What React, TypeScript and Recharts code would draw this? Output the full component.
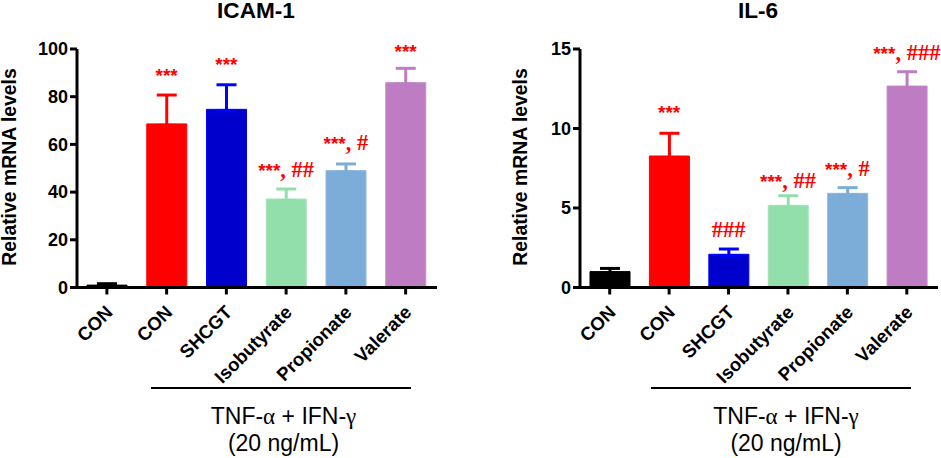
import React from "react";
import { ComposedChart, Bar, Line, XAxis, YAxis, ErrorBar } from "recharts";

const categories = ["CON", "CON ", "SHCGT", "Isobutyrate", "Propionate", "Valerate"];
const fills = ["#000000", "#FF0000", "#0000CC", "#93DFAC", "#7CADD8", "#BE7DC2"];
const strokes = ["#000000", "#FF0000", "#0000FF", "#A3E4B8", "#8DB9E0", "#C78CCB"];
const whiskers = ["#000000", "#FF0000", "#0000FF", "#93DFAC", "#7CADD8", "#BE7DC2"];

const icamValues = [1, 68.6, 74.7, 37.1, 49, 85.9];
const icamUpper = [0.6, 12.1, 10.3, 4.2, 2.8, 6];
const icamMarkY = [null, 86.2, 90.6, 46.3, 57.7, 96.2];
const icamStars = ["", "***", "***", "***", "***", "***"];
const icamHashes = ["", "", "", ", ##", ", #", ""];
const icamTicks = [0, 20, 40, 60, 80, 100];

const il6Values = [1, 8.27, 2.09, 5.17, 5.92, 12.67];
const il6Upper = [0.2, 1.43, 0.33, 0.6, 0.36, 0.9];
const il6MarkY = [null, 10.6, 3.17, 6.27, 7.0, 14.3];
const il6Stars = ["", "***", "", "***", "***", "***"];
const il6Hashes = ["", "", "###", ", ##", ", #", ", ###"];
const il6Ticks = [0, 5, 10, 15];

const SANS = "'Liberation Sans', Arial, sans-serif";
const SERIF = "'Liberation Serif', 'Times New Roman', serif";

function XTick({ x, y, payload }: any) {
  return (
    <g>
      <text
        transform={`rotate(-45 ${x + 7} ${y + 17})`}
        x={x + 7}
        y={y + 17}
        textAnchor="end"
        fontFamily={SANS}
        fontWeight={700}
        fontSize={18.6}
        fill="#000"
      >
        {String(payload.value).trim()}
      </text>
    </g>
  );
}

function Panel({ left, width, marginRight, axisWidth, labelX, max, ticks, values, upper, markY, stars, hashes, title, titleX, lowCap }: any) {
  const data = categories.map((name, i) => ({
    name,
    mark: markY[i],
    ...Object.fromEntries(values.map((v: number, k: number) => [`s${k}`, k === i ? v : null])),
  }));
  return (
    <div style={{ position: "absolute", left, top: 0, width, height: 458 }}>
      <ComposedChart
        width={width}
        height={458}
        data={data}
        margin={{ top: 49, bottom: 0, left: 0, right: marginRight }}
      >
        <XAxis
          dataKey="name"
          interval={0}
          height={170.5}
          tick={<XTick />}
          tickSize={7}
          padding={{ left: 0, right: 1.5 }}
          axisLine={{ stroke: "#000", strokeWidth: 3 }}
          tickLine={{ stroke: "#000", strokeWidth: 3 }}
        />
        <YAxis
          width={axisWidth}
          domain={[0, max]}
          ticks={ticks}
          interval={0}
          tickSize={7}
          allowDataOverflow
          axisLine={{ stroke: "#000", strokeWidth: 3 }}
          tickLine={{ stroke: "#000", strokeWidth: 3 }}
          tick={{ fontFamily: SANS, fontWeight: 700, fontSize: 18, fill: "#000" }}
          label={() => (
            <text
              transform={`rotate(-90 ${labelX} 167)`}
              x={labelX}
              y={167}
              textAnchor="middle"
              fontFamily={SANS}
              fontWeight={700}
              fontSize={19.4}
              fill="#000"
            >
              Relative mRNA levels
            </text>
          )}
        />
        {categories.map((_, k) => (
          <Bar
            key={k}
            dataKey={`s${k}`}
            stackId="a"
            barSize={40}
            fill={fills[k]}
            stroke={strokes[k]}
            strokeWidth={1}
            isAnimationActive={false}
          >
            <ErrorBar
              dataKey={(row: any) => (row[`s${k}`] == null ? [0, 0] : [lowCap, upper[k]])}
              direction="y"
              width={10}
              stroke={whiskers[k]}
              strokeWidth={3}
              isAnimationActive={false}
            />
          </Bar>
        ))}
        <Line
          dataKey="mark"
          stroke="none"
          dot={false}
          activeDot={false}
          isAnimationActive={false}
          label={({ x, y, index }: any) =>
            markY[index] == null ? (
              <g key={index} />
            ) : (
              <text key={index} x={x} y={y} textAnchor="middle" fill="#FF0000" fontWeight={700}>
                <tspan fontFamily={SANS} fontSize={19}>{stars[index]}</tspan>
                <tspan fontFamily={SERIF} fontSize={22.5}>{hashes[index]}</tspan>
              </text>
            )
          }
        />
      </ComposedChart>
      <div
        style={{
          position: "absolute",
          left: titleX - 60,
          top: 0,
          width: 120,
          textAlign: "center",
          fontFamily: SANS,
          fontWeight: 700,
          fontSize: 22.6,
          lineHeight: "22px",
          color: "#000",
        }}
      >
        {title}
      </div>
    </div>
  );
}

function Treatment({ x1, x2, cx }: { x1: number; x2: number; cx: number }) {
  return (
    <>
      <div style={{ position: "absolute", left: x1, width: x2 - x1, top: 387, height: 2, background: "#000" }} />
      <div
        style={{
          position: "absolute",
          left: cx - 120,
          width: 240,
          top: 403,
          textAlign: "center",
          fontFamily: SANS,
          fontSize: 23,
          lineHeight: "26px",
          color: "#000",
        }}
      >
        TNF-<span style={{ fontFamily: SERIF }}>α</span> + IFN-<span style={{ fontFamily: SERIF }}>γ</span>
        <br />
        (20 ng/mL)
      </div>
    </>
  );
}

export default function App() {
  return (
    <div style={{ position: "absolute", left: 0, top: 0, width: 941, height: 458, background: "#fff", overflow: "hidden" }}>
      <Panel
        left={0}
        width={470}
        marginRight={33}
        axisWidth={77}
        labelX={16}
        max={100}
        ticks={icamTicks}
        values={icamValues}
        upper={icamUpper}
        markY={icamMarkY}
        stars={icamStars}
        hashes={icamHashes}
        title="ICAM-1"
        titleX={256}
        lowCap={0.6}
      />
      <Panel
        left={470}
        width={471}
        marginRight={3}
        axisWidth={110}
        labelX={57}
        max={15}
        ticks={il6Ticks}
        values={il6Values}
        upper={il6Upper}
        markY={il6MarkY}
        stars={il6Stars}
        hashes={il6Hashes}
        title="IL-6"
        titleX={288}
        lowCap={0.09}
      />
      <Treatment x1={151} x2={411} cx={283.5} />
      <Treatment x1={651} x2={911} cx={786} />
    </div>
  );
}
